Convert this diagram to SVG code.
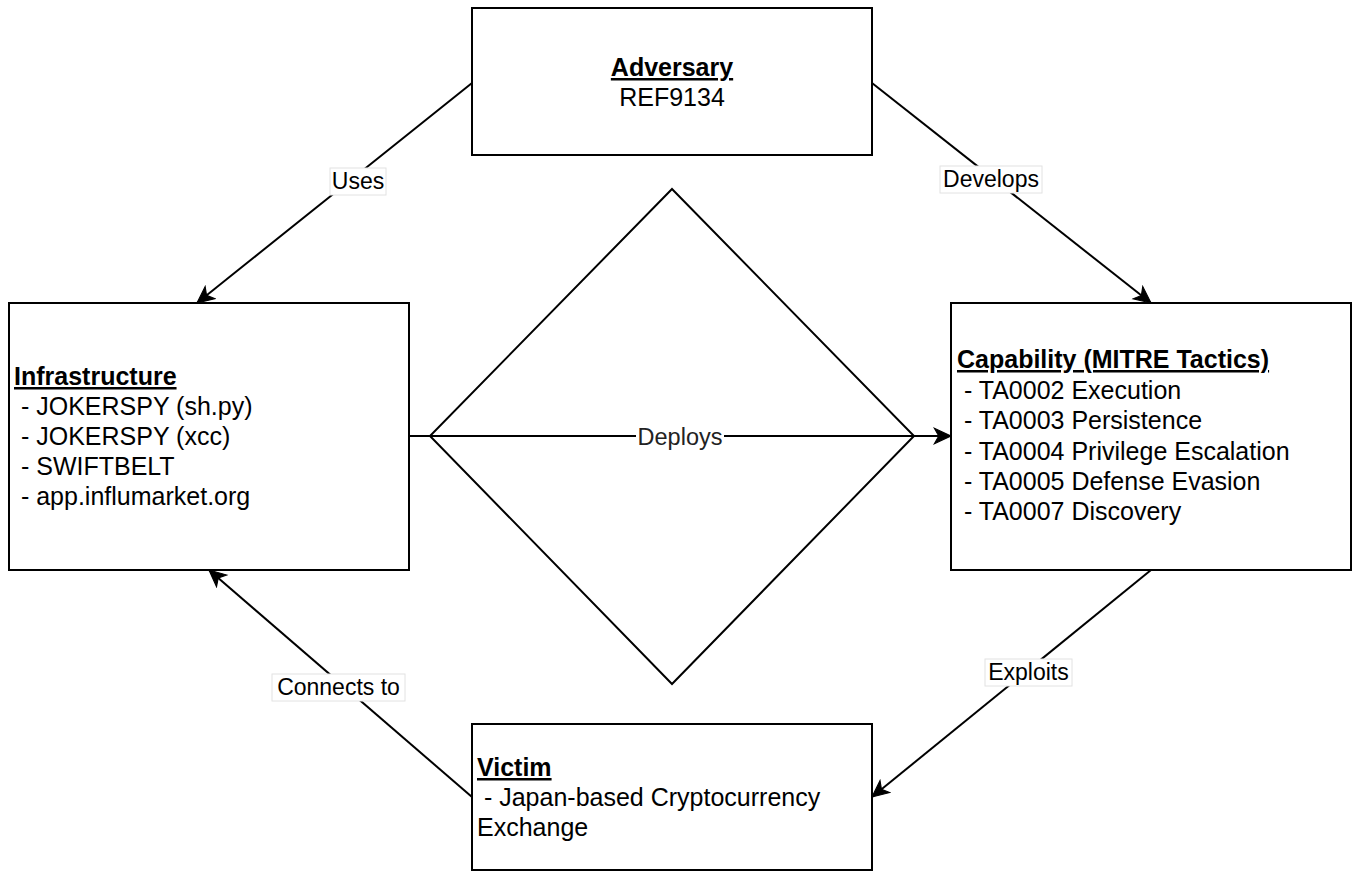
<svg xmlns="http://www.w3.org/2000/svg" width="1353" height="871" viewBox="0 0 1353 871">
<style>
.box{fill:#fff;stroke:#000;stroke-width:2}
.t{font-family:"Liberation Sans",Arial,sans-serif;font-size:25px;fill:#000}
.h{font-weight:bold;text-decoration:underline}
.edge{fill:none;stroke:#000;stroke-width:2}
.lbg{fill:#fff;stroke:#e2e2e2;stroke-width:1}
.lt{font-family:"Liberation Sans",Arial,sans-serif;font-size:23px;fill:#000;text-anchor:middle}
</style>
<defs>
<marker id="arr" markerUnits="userSpaceOnUse" markerWidth="20" markerHeight="20" viewBox="-1 -8 18 16" refX="15" refY="0" orient="auto">
<path d="M0,-7 L15,0 L0,7 L4,0 Z" fill="#000" stroke="#000" stroke-width="1"/>
</marker>
</defs>
<rect width="1353" height="871" fill="#fff"/>
<g id="diamond">
<polygon points="672,189 914,436 672,684 430,436" fill="none" stroke="#000" stroke-width="2"/>
</g>
<g id="connectors">
<line class="edge" x1="472" y1="83" x2="197" y2="303" marker-end="url(#arr)"/>
<line class="edge" x1="872" y1="83" x2="1151" y2="303" marker-end="url(#arr)"/>
<line class="edge" x1="1151" y1="570" x2="872" y2="797" marker-end="url(#arr)"/>
<line class="edge" x1="472" y1="797" x2="209" y2="570" marker-end="url(#arr)"/>
<line class="edge" x1="409" y1="436" x2="951" y2="436" marker-end="url(#arr)"/>
<rect class="lbg" x="330" y="168" width="56" height="27"/>
<text class="lt" x="358" y="189">Uses</text>
<rect class="lbg" x="940" y="166" width="102" height="27"/>
<text class="lt" x="991" y="187">Develops</text>
<rect class="lbg" x="272" y="674" width="133" height="27"/>
<text class="lt" x="338.5" y="695">Connects to</text>
<rect class="lbg" x="985" y="659" width="87" height="27"/>
<text class="lt" x="1028.5" y="680">Exploits</text>
<rect x="636" y="424" width="88" height="26" fill="#fff"/>
<text class="lt" x="680" y="445" style="font-size:23.5px;fill:#222">Deploys</text>
</g>
<g id="adversary">
<rect class="box" x="472" y="8" width="400" height="147"/>
<text class="t" x="672" y="76" text-anchor="middle"><tspan class="h">Adversary</tspan><tspan x="672" dy="30">REF9134</tspan></text>
</g>
<g id="infrastructure">
<rect class="box" x="9" y="303" width="400" height="267"/>
<text class="t" xml:space="preserve"><tspan class="h" x="14" y="385">Infrastructure</tspan><tspan x="14" y="415"> - JOKERSPY (sh.py)</tspan><tspan x="14" y="445"> - JOKERSPY (xcc)</tspan><tspan x="14" y="475"> - SWIFTBELT</tspan><tspan x="14" y="505"> - app.influmarket.org</tspan></text>
</g>
<g id="capability">
<rect class="box" x="951" y="303" width="400" height="267"/>
<text class="t" xml:space="preserve"><tspan class="h" x="957" y="368">Capability (MITRE Tactics)</tspan><tspan x="957" y="399"> - TA0002 Execution</tspan><tspan x="957" y="429"> - TA0003 Persistence</tspan><tspan x="957" y="460"> - TA0004 Privilege Escalation</tspan><tspan x="957" y="490"> - TA0005 Defense Evasion</tspan><tspan x="957" y="520"> - TA0007 Discovery</tspan></text>
</g>
<g id="victim">
<rect class="box" x="472" y="724" width="400" height="146"/>
<text class="t" xml:space="preserve"><tspan class="h" x="477" y="776">Victim</tspan><tspan x="477" y="806"> - Japan-based Cryptocurrency</tspan><tspan x="477" y="836">Exchange</tspan></text>
</g>
</svg>
